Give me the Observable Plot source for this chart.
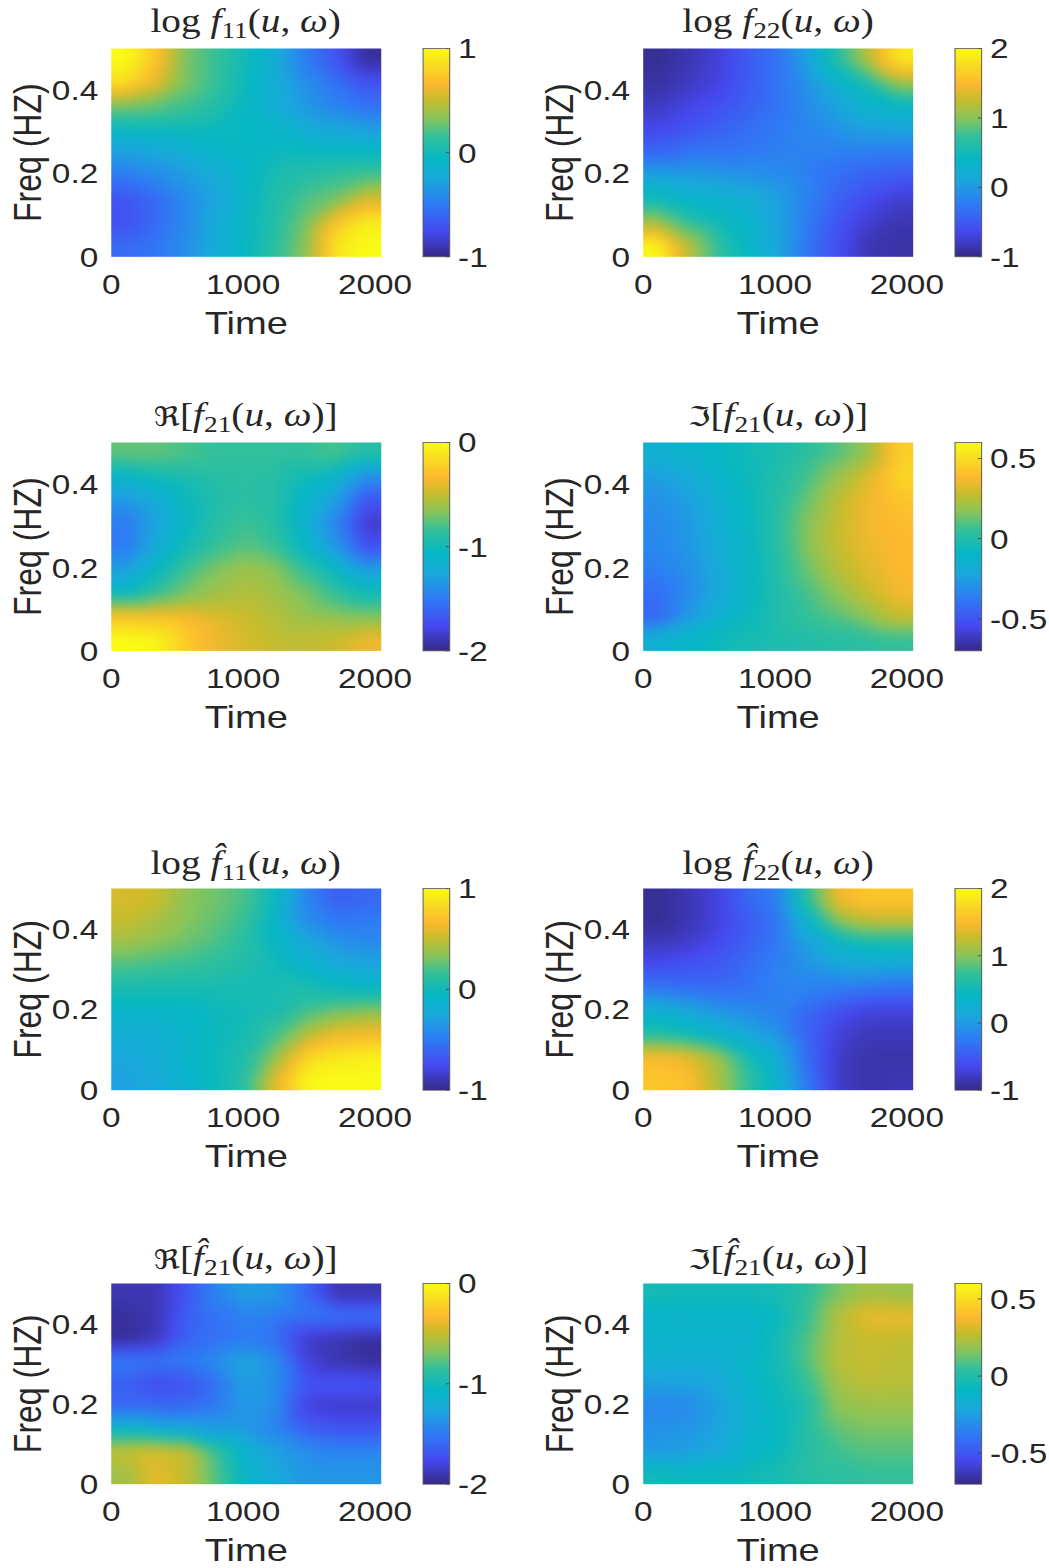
<!DOCTYPE html>
<html><head><meta charset="utf-8">
<script src="https://cdn.jsdelivr.net/npm/d3@7"></script>
<script src="https://cdn.jsdelivr.net/npm/@observablehq/plot@0.6"></script>
<style>
html,body{margin:0;padding:0;background:#fff;overflow:hidden;width:1049px;height:1568px}
#root{position:absolute;left:0;top:0;width:881.5px;height:1568px;transform:scaleX(1.19);transform-origin:0 0}
#root svg{position:absolute;overflow:visible;background:transparent}
.ttl{position:absolute;font-family:"Liberation Serif",serif;font-size:33px;line-height:40px;color:#262626;white-space:nowrap;transform:translateX(-50%)}
.ttl i{font-style:italic}
.ttl sub{font-size:23px;line-height:0;vertical-align:-6px}
.ttl .fr{font-family:"DejaVu Sans",sans-serif;font-size:27px}
</style></head><body><div id="root"></div>
<script>
const titles = [
  'log <i>f</i><sub>11</sub>(<i>u</i>, <i>ω</i>)',
  'log <i>f</i><sub>22</sub>(<i>u</i>, <i>ω</i>)',
  '<span class="fr">ℜ</span>[<i>f</i><sub>21</sub>(<i>u</i>, <i>ω</i>)]',
  '<span class="fr">ℑ</span>[<i>f</i><sub>21</sub>(<i>u</i>, <i>ω</i>)]',
  'log <i>f̂</i><sub>11</sub>(<i>u</i>, <i>ω</i>)',
  'log <i>f̂</i><sub>22</sub>(<i>u</i>, <i>ω</i>)',
  '<span class="fr">ℜ</span>[<i>f̂</i><sub>21</sub>(<i>u</i>, <i>ω</i>)]',
  '<span class="fr">ℑ</span>[<i>f̂</i><sub>21</sub>(<i>u</i>, <i>ω</i>)]'
];
const domains = [[-1,1],[-1,2],[-2,0],[-0.7,0.6],[-1,1],[-1,2],[-2,0],[-0.7,0.6]];
const barTicks = [[-1,0,1],[-1,0,1,2],[-2,-1,0],[-0.5,0,0.5],[-1,0,1],[-1,0,1,2],[-2,-1,0],[-0.5,0,0.5]];
const xTicks = [0,1000,2000];
const yTicks = [0,0.2,0.4];
const xLabel = "Time";
const yLabel = "Freq (HZ)";
// sampling positions of the values below
const timeNodes = [114,341,569,796,1024,1252,1479,1707,1934];
const freqNodes = [.472,.417,.361,.306,.25,.194,.139,.083,.028];
// each array: rows from the highest frequency to the lowest, left to right in time
const f11 = [
 1.00,.72,.30,.16,.00,-.20,-.50,-.70,-.95,
 .85,.60,.30,.15,-.02,-.20,-.40,-.55,-.70,
 .30,.25,.18,.08,-.05,-.20,-.35,-.45,-.55,
 -.05,-.02,-.02,-.03,-.05,-.10,-.20,-.25,-.30,
 -.30,-.25,-.18,-.10,-.05,-.02,-.03,-.05,-.05,
 -.50,-.42,-.32,-.22,-.07,.05,.10,.15,.20,
 -.70,-.58,-.42,-.27,-.07,.08,.22,.30,.55,
 -.72,-.58,-.42,-.22,-.05,.10,.30,.72,.92,
 -.58,-.52,-.40,-.20,-.05,.13,.35,.90,1.00];
const f22 = [
 -.95,-.85,-.72,-.50,-.30,.10,.65,1.20,1.85,
 -.90,-.80,-.70,-.50,-.30,-.05,.30,.60,1.10,
 -.80,-.68,-.58,-.45,-.30,-.10,.10,.30,.40,
 -.65,-.55,-.45,-.35,-.25,-.15,-.05,.05,.10,
 -.40,-.30,-.28,-.25,-.22,-.20,-.20,-.22,-.25,
 .10,.05,.00,-.05,-.10,-.22,-.35,-.45,-.50,
 .50,.35,.30,.22,.05,-.20,-.45,-.62,-.75,
 1.10,.70,.50,.35,.08,-.25,-.55,-.75,-.85,
 1.95,1.20,.70,.40,.10,-.30,-.60,-.85,-.90];
const re21 = [
 -.75,-.75,-.80,-.85,-.85,-.85,-.85,-.80,-.90,
 -1.10,-1.00,-.95,-.90,-.88,-.90,-1.00,-1.10,-1.40,
 -1.35,-1.20,-1.02,-.92,-.88,-.90,-1.10,-1.30,-1.70,
 -1.50,-1.28,-1.05,-.90,-.82,-.90,-1.15,-1.45,-1.85,
 -1.50,-1.22,-.98,-.84,-.76,-.84,-1.08,-1.35,-1.72,
 -1.30,-1.05,-.82,-.68,-.60,-.66,-.85,-1.05,-1.30,
 -1.05,-.85,-.70,-.60,-.55,-.60,-.70,-.85,-1.00,
 -.30,-.32,-.35,-.42,-.48,-.55,-.62,-.65,-.68,
 .00,-.03,-.25,-.38,-.45,-.50,-.52,-.48,-.38];
const im21 = [
 -.15,-.13,-.09,-.05,-.02,.03,.10,.20,.45,
 -.25,-.20,-.12,-.06,.00,.08,.20,.33,.48,
 -.30,-.25,-.15,-.07,.01,.13,.27,.36,.42,
 -.32,-.27,-.17,-.08,.02,.17,.28,.36,.39,
 -.33,-.28,-.18,-.09,.02,.17,.28,.35,.38,
 -.36,-.30,-.20,-.09,.01,.13,.25,.33,.38,
 -.42,-.32,-.20,-.09,.00,.08,.18,.28,.37,
 -.45,-.28,-.15,-.07,.00,.05,.10,.18,.28,
 -.15,-.10,-.06,-.03,-.01,.00,.02,.03,.05];
const f11Hat = [
 .55,.52,.35,.28,.20,-.05,-.45,-.65,-.60,
 .50,.42,.33,.25,.15,-.10,-.40,-.50,-.50,
 .38,.33,.27,.20,.10,-.05,-.22,-.35,-.40,
 .20,.17,.15,.12,.07,.00,-.10,-.20,-.25,
 .03,.03,.02,.03,.03,.04,.06,.00,-.05,
 -.10,-.10,-.08,-.03,.00,.05,.20,.30,.35,
 -.20,-.18,-.10,-.03,.02,.18,.45,.62,.65,
 -.25,-.20,-.10,-.02,.08,.38,.80,.90,.95,
 -.30,-.22,-.12,-.02,.12,.60,.98,1.00,1.00];
const f22Hat = [
 -.95,-.85,-.70,-.40,-.20,.70,1.45,1.60,1.60,
 -.95,-.85,-.70,-.50,-.30,.30,1.00,1.20,1.20,
 -.80,-.75,-.62,-.45,-.25,.05,.35,.50,.50,
 -.60,-.55,-.50,-.35,-.20,-.05,.08,.12,.10,
 -.25,-.30,-.35,-.30,-.20,-.20,-.25,-.30,-.35,
 .30,.15,.00,-.10,-.18,-.40,-.60,-.72,-.72,
 .60,.50,.32,.15,-.05,-.45,-.72,-.82,-.82,
 1.50,1.40,1.10,.55,.20,-.40,-.78,-.88,-.88,
 1.60,1.55,1.15,.70,.30,-.30,-.78,-.88,-.85];
const re21Hat = [
 -1.90,-1.90,-1.70,-1.45,-1.30,-1.35,-1.60,-1.90,-1.90,
 -1.95,-1.90,-1.65,-1.55,-1.45,-1.50,-1.55,-1.55,-1.55,
 -1.95,-1.88,-1.62,-1.55,-1.50,-1.55,-1.85,-1.90,-1.95,
 -1.50,-1.55,-1.50,-1.40,-1.25,-1.40,-1.80,-1.90,-1.95,
 -1.65,-1.75,-1.70,-1.55,-1.30,-1.40,-1.70,-1.70,-1.70,
 -1.60,-1.60,-1.60,-1.50,-1.35,-1.40,-1.80,-1.85,-1.85,
 -1.10,-1.20,-1.25,-1.35,-1.35,-1.45,-1.65,-1.70,-1.70,
 -.50,-.45,-.50,-.85,-1.15,-1.30,-1.40,-1.45,-1.45,
 -.60,-.40,-.50,-.78,-1.10,-1.25,-1.35,-1.35,-1.35];
const im21Hat = [
 -.04,-.05,-.05,-.05,-.03,.03,.15,.22,.20,
 -.12,-.12,-.12,-.12,-.08,.05,.25,.35,.35,
 -.13,-.13,-.13,-.13,-.04,.10,.25,.28,.27,
 -.16,-.17,-.16,-.10,-.04,.10,.26,.28,.26,
 -.25,-.24,-.20,-.13,-.05,.05,.22,.26,.25,
 -.33,-.32,-.24,-.14,-.07,.00,.18,.20,.20,
 -.30,-.28,-.23,-.14,-.08,.02,.12,.15,.15,
 -.27,-.25,-.20,-.12,-.07,.02,.07,.10,.10,
 -.05,-.07,-.07,-.05,-.03,.02,.03,.05,.05];
const panels = [f11,f22,re21,im21,f11Hat,f22Hat,re21Hat,im21Hat];

const parulaPos = [0,.12,.25,.37,.47,.58,.67,.76,.83,.92,1];
const parulaCol = ["#352a87","#4649f0","#2f7bf5","#1aa8dc","#05b7c4","#33c09a","#8cc457","#cbbc2b","#fdb82f","#f8dc22","#f9fb15"];
const parulaScale = d3.scaleLinear().domain(parulaPos).range(parulaCol).interpolate(d3.interpolateRgb).clamp(true);
const parula = t => parulaScale(t);

const S = 1.19;
const colLeft = [110.7,643], barLeft = [422,954.2];
const rowTop = [47.7,442.3,888.3,1283.3], rowH = [208.3,208.4,201.7,200.7];
const plotW = 270, barW = 26.7;
const fontFamily = '"Liberation Sans",Arial,sans-serif';
const ink = "#262626";
const root = document.getElementById("root");

// the frame's edges take the value of the nearest read-off sample
const edgeTimes = [0,...timeNodes,2048];
const edgeFreqs = [0.5,...freqNodes,0];
const near = k => Math.max(0,Math.min(8,k-1));

panels.forEach((values,i)=>{
  const c = i%2, r = Math.floor(i/2);
  const mL = 100, mR = 60, mT = 10, mB = 90;
  const nodes = edgeFreqs.flatMap((f,a)=>edgeTimes.map((t,b)=>({t,f,v:values[near(a)*9+near(b)]})));
  const svg = Plot.plot({
    width: plotW/S+mL+mR, height: rowH[r]+mT+mB,
    marginLeft: mL, marginRight: mR, marginTop: mT, marginBottom: mB,
    style:{fontFamily, background:"transparent", color:ink},
    x:{domain:[0,2048],axis:null}, y:{domain:[0,0.5],axis:null},
    color:{type:"linear", domain:domains[i], interpolate:parula, clamp:true},
    marks:[
      Plot.raster(nodes,{x:"t",y:"f",fill:"v",x1:0,x2:2048,y1:0.5,y2:0,interpolate:"barycentric",blur:5}),
      Plot.axisX({ticks:xTicks,tickSize:0,tickPadding:17,fontSize:28,tickFormat:d=>String(d),fill:ink,label:null}),
      Plot.axisY({ticks:yTicks,tickSize:0,tickPadding:11,fontSize:28,dy:1,tickFormat:d=>String(d),fill:ink,label:null}),
      Plot.axisX({ticks:[],tickSize:0,fontSize:32,fill:ink,label:xLabel,labelAnchor:"center",labelArrow:"none",labelOffset:77}),
      Plot.axisY({ticks:[],tickSize:0,fontSize:32,fill:ink,label:yLabel,labelAnchor:"center",labelArrow:"none",labelOffset:82})
    ]
  });
  svg.style.left = (colLeft[c]/S-mL)+"px";
  svg.style.top = (rowTop[r]-mT)+"px";
  root.appendChild(svg);

  const [lo,hi] = domains[i];
  const levels = d3.range(128).map(k=>hi-(k+0.5)/128*(hi-lo));
  const bR = 80;
  const bar = Plot.plot({
    width: barW/S+10+bR, height: rowH[r]+20,
    marginLeft:10, marginRight:bR, marginTop:10, marginBottom:10,
    style:{fontFamily, background:"transparent", color:ink},
    x:{domain:[0,1],axis:null}, y:{domain:[lo,hi],axis:null},
    color:{type:"linear", domain:[lo,hi], interpolate:parula, clamp:true},
    marks:[
      Plot.raster(levels,{width:1,height:128,x1:0,x2:1,y1:hi,y2:lo,fill:d=>d}),
      Plot.ruleY(barTicks[i],{x1:0.88,x2:1,stroke:"#444",strokeWidth:0.8}),
      Plot.frame({stroke:"#555",strokeWidth:0.8}),
      Plot.axisY({anchor:"right",ticks:barTicks[i],tickSize:0,tickPadding:7,fontSize:28,dy:1,tickFormat:d=>String(d),fill:ink,label:null})
    ]
  });
  bar.style.left = (barLeft[c]/S-10)+"px";
  bar.style.top = (rowTop[r]-10)+"px";
  root.appendChild(bar);

  const t = document.createElement("div");
  t.className = "ttl";
  t.innerHTML = titles[i];
  t.style.left = ((colLeft[c]+plotW/2)/S)+"px";
  t.style.top = (rowTop[r]-(r<2?47:45))+"px";
  root.appendChild(t);
});
</script></body></html>
